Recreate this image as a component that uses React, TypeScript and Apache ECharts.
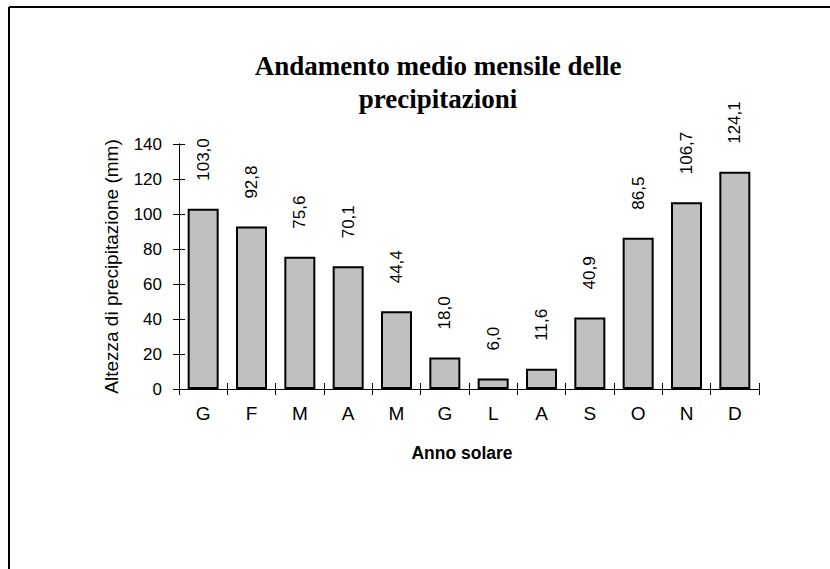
import React, { useEffect, useRef } from "react";
import * as echarts from "echarts";

const categories = ["G", "F", "M", "A", "M", "G", "L", "A", "S", "O", "N", "D"];
const precipitation = [103.0, 92.8, 75.6, 70.1, 44.4, 18.0, 6.0, 11.6, 40.9, 86.5, 106.7, 124.1];
const yMin = 0;
const yMax = 140;
const yInterval = 20;
const chartTitle = "Andamento medio mensile delle\nprecipitazioni";
const xAxisName = "Anno solare";
const yAxisName = "Altezza di precipitazione (mm)";

const SANS = '"Liberation Sans", Arial, sans-serif';
const SERIF = '"Liberation Serif", "Times New Roman", serif';

export default function App() {
  const ref = useRef<HTMLDivElement>(null);

  useEffect(() => {
    if (!ref.current) return;
    const chart = echarts.init(ref.current, undefined, { renderer: "svg" });
    const axisLineStyle = { color: "#000", width: 1 };
    chart.setOption({
      animation: false,
      backgroundColor: "#fff",
      grid: { left: 179, right: 71, top: 144, bottom: 180, containLabel: false },
      graphic: [
        {
          type: "line",
          shape: { x1: 9, y1: 7, x2: 830, y2: 7 },
          style: { stroke: "#000", lineWidth: 2 },
          silent: true,
        },
        {
          type: "line",
          shape: { x1: 9, y1: 7, x2: 9, y2: 569 },
          style: { stroke: "#000", lineWidth: 2 },
          silent: true,
        },
        {
          type: "text",
          x: 438,
          y: 49,
          style: {
            text: chartTitle,
            fill: "#000",
            fontFamily: SERIF,
            fontSize: 27,
            fontWeight: "bold",
            lineHeight: 33,
            textAlign: "center",
            textVerticalAlign: "top",
          },
        },
      ],
      xAxis: [
        {
          type: "category",
          data: categories,
          position: "bottom",
          axisLine: { show: true, lineStyle: axisLineStyle },
          axisTick: { show: true, length: 6, lineStyle: axisLineStyle },
          axisLabel: { color: "#000", fontFamily: SANS, fontSize: 19, margin: 15 },
          name: xAxisName,
          nameLocation: "middle",
          nameGap: 55,
          nameTextStyle: {
            color: "#000",
            fontFamily: SANS,
            fontSize: 17.5,
            fontWeight: "bold",
            padding: [0, 14, 0, 0],
          },
          splitLine: { show: false },
        },
        {
          type: "category",
          data: categories,
          position: "bottom",
          axisLine: { show: true, lineStyle: axisLineStyle },
          axisTick: { show: true, inside: true, length: 6, lineStyle: axisLineStyle },
          axisLabel: { show: false },
          splitLine: { show: false },
        },
      ],
      yAxis: [
        {
          type: "value",
          min: yMin,
          max: yMax,
          interval: yInterval,
          position: "left",
          axisLine: { show: true, lineStyle: axisLineStyle },
          axisTick: { show: true, length: 6, lineStyle: axisLineStyle },
          axisLabel: { color: "#000", fontFamily: SANS, fontSize: 17, margin: 17 },
          splitLine: { show: false },
          name: yAxisName,
          nameLocation: "middle",
          nameRotate: 90,
          nameGap: 58,
          nameTextStyle: { color: "#000", fontFamily: SANS, fontSize: 19 },
        },
        {
          type: "value",
          min: yMin,
          max: yMax,
          interval: yInterval,
          position: "left",
          axisLine: { show: true, lineStyle: axisLineStyle },
          axisTick: { show: true, inside: true, length: 6, lineStyle: axisLineStyle },
          axisLabel: { show: false },
          splitLine: { show: false },
        },
      ],
      series: [
        {
          type: "bar",
          xAxisIndex: 0,
          yAxisIndex: 0,
          data: precipitation,
          barWidth: 31,
          itemStyle: { color: "#c0c0c0", borderColor: "#000", borderWidth: 2 },
          label: {
            show: true,
            position: "top",
            distance: 28,
            rotate: 90,
            align: "left",
            verticalAlign: "middle",
            color: "#000",
            fontFamily: SANS,
            fontSize: 17,
            formatter: (p: any) => Number(p.value).toFixed(1).replace(".", ","),
          },
        },
      ],
    });
    return () => chart.dispose();
  }, []);

  return (
    <div
      ref={ref}
      style={{ position: "fixed", left: 0, top: 0, width: 830, height: 569, background: "#fff" }}
    />
  );
}
